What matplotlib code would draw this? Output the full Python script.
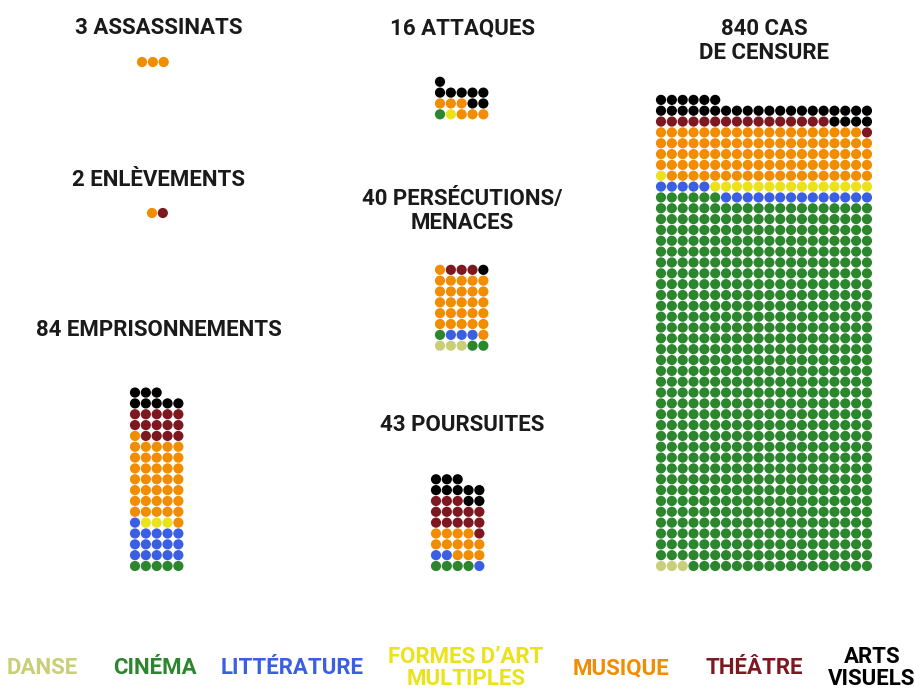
import numpy as np
import matplotlib.pyplot as plt

# categories (bottom-up fill order) and their colours
categories = ["DANSE", "CINÉMA", "LITTÉRATURE", "FORMES D’ART\nMULTIPLES",
              "MUSIQUE", "THÉÂTRE", "ARTS\nVISUELS"]
colors = ["#c8cf78", "#2b862d", "#3b5fe3", "#ebe21a", "#f28c00", "#7e1820", "#000000"]

# number of cases per category, in the order above
assassinats = [0, 0, 0, 0, 3, 0, 0]
enlevements = [0, 0, 0, 0, 1, 1, 0]
emprisonnements = [0, 5, 16, 3, 37, 14, 8]
attaques = [0, 1, 0, 1, 6, 0, 8]
persecutions = [3, 3, 3, 0, 27, 3, 1]
poursuites = [0, 4, 3, 0, 12, 14, 10]
censure = [3, 683, 19, 16, 98, 17, 30]

titles = ["3 ASSASSINATS", "2 ENLÈVEMENTS", "84 EMPRISONNEMENTS", "16 ATTAQUES",
          "40 PERSÉCUTIONS/\nMENACES", "43 POURSUITES", "840 CAS\nDE CENSURE"]

plt.rcParams['font.family'] = ['Roboto', 'DejaVu Sans']

fig = plt.figure(figsize=(9.15, 6.89), dpi=100)
ax = fig.add_axes([0, 0, 1, 1])
ax.set_xlim(0, 915)
ax.set_ylim(689, 0)
ax.axis('off')

step = 10.84
dot = 54


def waffle(counts, x0, y0, ncol):
    cols = np.repeat(np.arange(len(counts)), counts)
    i = np.arange(len(cols))
    xs = x0 + (i % ncol) * step
    ys = y0 - (i // ncol) * step
    ax.scatter(xs, ys, s=dot, c=[colors[k] for k in cols], linewidths=0)


# (data, x of first column, y of bottom row, columns, title x, title y)
layout = [
    (assassinats, 142, 62, 5, 159, 28),
    (enlevements, 152, 213, 5, 158, 180),
    (emprisonnements, 135, 566, 5, 159, 330),
    (attaques, 440, 114.3, 5, 462, 28),
    (persecutions, 440, 345.7, 5, 462, 211),
    (poursuites, 436, 566, 5, 462, 425),
    (censure, 661, 566, 20, 764, 41),
]

for (d, x0, y0, nc, tx, ty), t in zip(layout, titles):
    waffle(d, x0, y0, nc)
    ax.text(tx, ty, t, ha='center', va='center', fontsize=16, fontweight='bold',
            color='#1a1a1a', linespacing=1.15)

# legend
leg_x = [42, 155, 292, 466, 621, 754, 872]
for lab, col, lx in zip(categories, colors, leg_x):
    ax.text(lx, 668, lab, ha='center', va='center', fontsize=16, fontweight='bold',
            color=col, linespacing=0.98)

fig.savefig("out.png", dpi=100)
